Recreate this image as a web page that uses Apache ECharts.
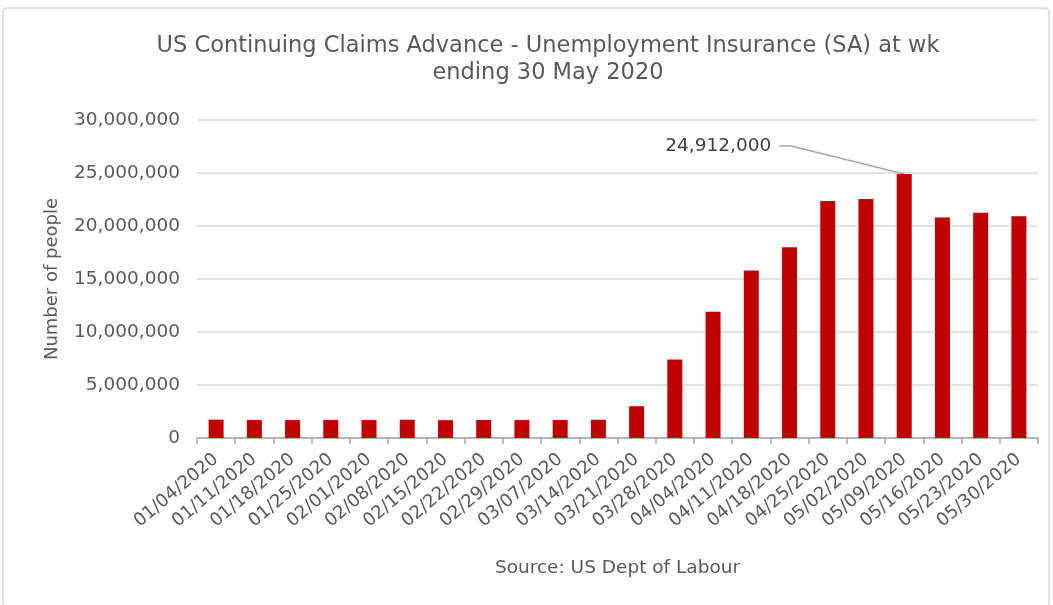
<!DOCTYPE html>
<html><head><meta charset="utf-8">
<script src="https://cdn.jsdelivr.net/npm/echarts@6/dist/echarts.min.js"></script>
<style>html,body{margin:0;padding:0;background:#fff}#c{width:1053px;height:605px}</style>
</head><body><div id="c"></div>
<script>
const categories = ['01/04/2020','01/11/2020','01/18/2020','01/25/2020','02/01/2020','02/08/2020','02/15/2020','02/22/2020','02/29/2020','03/07/2020','03/14/2020','03/21/2020','03/28/2020','04/04/2020','04/11/2020','04/18/2020','04/25/2020','05/02/2020','05/09/2020','05/16/2020','05/23/2020','05/30/2020'];
const claims = [1730000,1700000,1690000,1710000,1690000,1720000,1680000,1700000,1690000,1700000,1720000,3000000,7400000,11900000,15800000,18000000,22360000,22550000,24912000,20810000,21250000,20910000];
const yTicks = [0,5000000,10000000,15000000,20000000,25000000,30000000];
const titleText = 'US Continuing Claims Advance - Unemployment Insurance (SA) at wk\nending 30 May 2020';
const yName = 'Number of people';
const sourceText = 'Source: US Dept of Labour';
const peakIndex = 18;

const font = 'DejaVu Sans, sans-serif';
const grey = '#595959';
const chart = echarts.init(document.getElementById('c'));
const fmt = v => v.toLocaleString('en-US');
chart.setOption({
  animation:false,
  title:{text:titleText,left:543,textAlign:'center',top:28,textStyle:{fontFamily:font,fontSize:22.5,fontWeight:'normal',color:grey,lineHeight:27}},
  grid:{left:197,right:15,top:120,bottom:167,containLabel:false},
  xAxis:{type:'category',data:categories,
    axisLine:{lineStyle:{color:'#a6a6a6',width:1.5}},
    axisTick:{show:true,length:6,lineStyle:{color:'#a6a6a6',width:1.5}},
    axisLabel:{rotate:40,interval:0,margin:19,fontFamily:font,fontSize:18,color:grey}},
  yAxis:{type:'value',min:yTicks[0],max:yTicks[yTicks.length-1],interval:yTicks[1]-yTicks[0],
    name:yName,nameLocation:'middle',nameGap:136,nameRotate:90,
    nameTextStyle:{fontFamily:font,fontSize:18,color:grey},
    axisLine:{show:false},axisTick:{show:false},
    axisLabel:{margin:17,fontFamily:font,fontSize:18.5,color:grey,formatter:fmt},
    splitLine:{lineStyle:{color:'#d9d9d9',width:1.5}}},
  series:[{type:'bar',data:claims,barWidth:15,itemStyle:{color:'#c00000'}}]
});
const peakPt = chart.convertToPixel({xAxisIndex:0,yAxisIndex:0},[peakIndex,claims[peakIndex]]);
const gridRect = chart.getModel().getComponent('grid').coordinateSystem.getRect();
chart.setOption({graphic:[
  {type:'rect',shape:{x:3,y:8,width:1046,height:600,r:4},style:{fill:'none',stroke:'#d9d9d9',lineWidth:1.5},silent:true,z:-1},
  {type:'text',style:{text:fmt(claims[peakIndex]),x:peakPt[0]-133,y:peakPt[1]-28,align:'right',verticalAlign:'middle',font:'18.5px '+font,fill:'#404040'}},
  {type:'polyline',shape:{points:[[peakPt[0]-125,peakPt[1]-28],[peakPt[0]-113,peakPt[1]-28],[peakPt[0],peakPt[1]]]},style:{stroke:'#a6a6a6',lineWidth:1.5,fill:'none'}},
  {type:'text',style:{text:sourceText,x:gridRect.x+gridRect.width/2,y:568,align:'center',verticalAlign:'middle',font:'18.5px '+font,fill:grey}}
]});
</script></body></html>
